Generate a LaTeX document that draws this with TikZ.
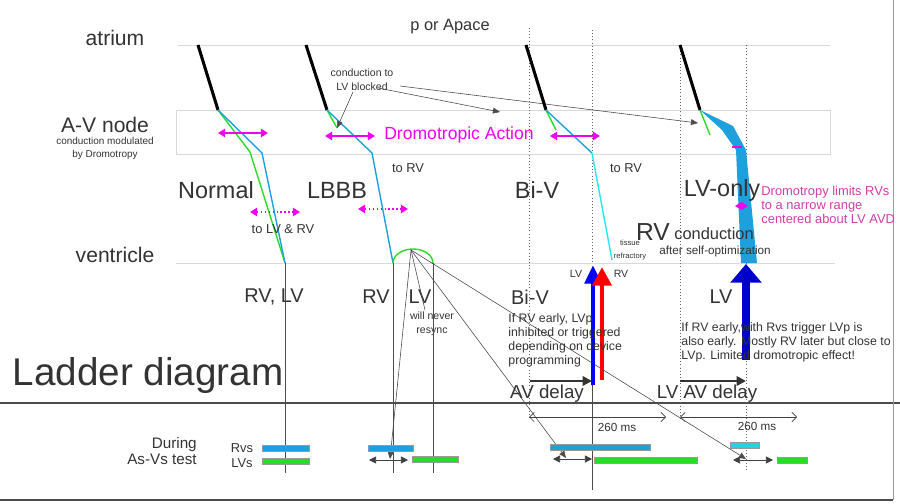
\documentclass[tikz,border=0pt]{standalone}
\usepackage{fontspec}
\setmainfont{Liberation Sans}
\usetikzlibrary{positioning,arrows.meta}
\definecolor{cblue}{RGB}{30,160,220}
\definecolor{cgreen}{RGB}{40,220,40}
\definecolor{cmag}{RGB}{240,0,240}
\definecolor{cpink}{RGB}{210,60,170}
\definecolor{ccyan}{RGB}{40,230,240}
\newcommand{\fs}[1]{\fontsize{#1}{#1}\selectfont}
\tikzset{
  grid/.style={draw=black!15, line width=0.6pt},
  lbl/.style={text=black!80, inner sep=1pt},
  atr/.style={line width=2.6pt, black},
  grn/.style={cgreen, line width=1.2pt},
  blu/.style={cblue, line width=1.2pt},
  dromo/.style={cmag, line width=1.4pt, {Triangle[width=7pt,length=6pt]}-{Triangle[width=7pt,length=6pt]}},
  dromodot/.style={dromo, dotted, line width=1.6pt},
  guide/.style={black!60, dotted, line width=0.7pt},
  thin/.style={black!70, line width=0.5pt},
  bar/.style={draw=black!40, line width=0.4pt, minimum height=5pt, inner sep=0pt},
  twoway/.style={black!75, line width=0.6pt, {Triangle[width=6pt,length=6pt]}-{Triangle[width=6pt,length=6pt]}},
  span/.style={black!75, line width=0.6pt, {Straight Barb[length=4pt]}-{Straight Barb[length=4pt]}},
  delay/.style={black!80, line width=2pt, -{Triangle[width=8pt,length=8pt]}}
}
\begin{document}
\begin{tikzpicture}[x=0.03cm, y=-0.03cm]
  \useasboundingbox (0,0) rectangle (900,503);
  % frame lines
  \draw[grid] (178,45) -- (830,45);
  \draw[grid] (176,110) rectangle (830,154);
  \draw[grid] (176,263) -- (835,263);
  \draw[black!70, line width=1pt] (0,403) -- (900,403);
  \draw[black!70, line width=1.2pt] (0,500) -- (893,500);
  \draw[black!40, line width=0.8pt] (893,0) -- (893,500);

  % row labels
  \node[lbl] (atrium) at (115,38) {\fs{18}atrium};
  \node[lbl] (avnode) at (105,125) {\fs{18}A-V node};
  \node[lbl, align=center] (modul) at (105,148) {\fs{8.5}conduction modulated\\[-1pt]\fs{8.5}by Dromotropy};
  \node[lbl] (ventricle) at (115,255) {\fs{18}ventricle};
  \node[lbl] (ladder) at (148,375) {\fs{33}Ladder diagram};
  \node[lbl, align=right] (during) at (162,451) {\fs{13}During\\[2pt]\fs{13}As-Vs test};
  \node[lbl] (rvs) at (242,448) {\fs{11}Rvs};
  \node[lbl] (lvs) at (242,463) {\fs{11}LVs};
  \node[lbl] (apace) at (450,27) {\fs{14}p or Apace};

  % guide lines
  \draw[guide] (529,28) -- (529,420);
  \draw[guide] (592,30) -- (592,263);
  \draw[guide] (680,45) -- (680,420);
  \draw[guide] (746,45) -- (746,470);

  % Normal
  \draw[atr] (198,45) -- (218,110);
  \draw[grn] (218,110) -- (250,152) -- (285,263);
  \draw[blu] (218,110) -- (262,153) -- (285,263);
  \draw[dromo] (218,133) -- (268,133);
  \draw[dromodot] (250,212) -- (300,212);
  \node[lbl] (tolvrv) at (283,229) {\fs{11}to LV \& RV};
  \node[lbl] (normal) at (216,190) {\fs{20}Normal};
  \node[lbl] (rvlv) at (274,297) {\fs{17}RV, LV};
  \draw[thin] (285,263) -- (285,473);

  % LBBB
  \draw[atr] (306,45) -- (327,110);
  \draw[grn] (327,110) -- (337,128);
  \draw[blu] (327,110) -- (372,153) -- (393,263);
  \draw[dromo] (325,136) -- (375,136);
  \node[text=cmag, inner sep=1pt] (dromact) at (459,135) {\fs{15}Dromotropic Action};
  \node[lbl] (torv1) at (408,168) {\fs{11}to RV};
  \node[lbl] (lbbb) at (337,190) {\fs{20}LBBB};
  \draw[dromodot] (358,209) -- (408,209);
  \draw[cgreen, line width=1.2pt] (393,263) arc[start angle=180, end angle=0, x radius=20, y radius=-14] coordinate (arcend);
  \coordinate (arctop) at (411,250);
  \node[lbl] (rv2) at (376,297) {\fs{17}RV};
  \node[lbl] (lv2) at (420,297) {\fs{17}LV};
  \node[lbl, align=center] (never) at (432,324) {\fs{9}will never\\\fs{9}resync};
  \draw[thin] (393,263) -- (393,473);
  \draw[thin] (433,263) -- (433,473);
  \node[lbl, align=center] (blocked) at (362,80) {\fs{9}conduction to\\\fs{9}LV blocked};
  \draw[thin, -{Triangle[width=5pt,length=6pt]}] (353,92) -- (337,128);
  \draw[thin, -{Triangle[width=5pt,length=6pt]}] (378,88) -- (500,112);
  \draw[thin, -{Triangle[width=5pt,length=6pt]}] (400,86) -- (698,123);
  % LBBB timing lines
  \draw[thin, -{Triangle[width=5pt,length=6pt]}] (arctop) -- (390,459);
  \draw[thin] (arctop) -- (425,310);
  \draw[thin, -{Triangle[width=5pt,length=6pt]}] (arctop) -- (566,458);
  \draw[thin, -{Triangle[width=5pt,length=6pt]}] (arctop) -- (746,459);

  % Bi-V
  \draw[atr] (526,45) -- (546,110);
  \draw[grn] (546,110) -- (556,130);
  \draw[blu] (546,110) -- (592,153);
  \draw[ccyan, line width=1.2pt] (592,153) -- (612,260);
  \draw[dromo] (550,136) -- (600,136);
  \node[lbl] (torv2) at (626,168) {\fs{11}to RV};
  \node[lbl] (biv) at (537,190) {\fs{20}Bi-V};
  \node[lbl, align=center] (refr) at (630,250) {\fs{6.5}tissue\\[-1pt]\fs{6.5}refractory};
  \node[lbl] (lvlab) at (576,274) {\fs{9}LV};
  \node[lbl] (rvlab) at (621,274) {\fs{9}RV};
  \draw[blue, line width=4pt, -{Triangle[width=14pt,length=16pt]}] (593,385) -- (593,265);
  \draw[red, line width=4pt, -{Triangle[width=16pt,length=16pt]}] (602,380) -- (602,267);
  \node[lbl] (biv2) at (530,297) {\fs{17}Bi-V};
  \node[lbl, align=left, anchor=north west] (rvearly) at (507,312) {\fs{10.5}If RV early, LVp\\\fs{10.5}inhibited or triggered\\\fs{10.5}depending on device\\\fs{10.5}programming};
  \draw[thin] (592,385) -- (592,490);
  \draw[delay] (530,381) -- (592,381);
  \node[lbl] (avdelay) at (547,394) {\fs{16}AV delay};

  % LV-only
  \draw[atr] (680,45) -- (700,110);
  \draw[grn] (700,110) -- (710,135);
  \fill[cblue] (700,110) -- (722,130) -- (736,150) -- (741,263) -- (757,263) -- (746,150) -- (733,126) -- cycle;
  \draw[cmag, line width=1.4pt] (732,147) -- (742,147);
  \draw[dromodot, line width=1.2pt] (735,206) -- (748,206);
  \node[lbl] (lvonly) at (722,190) {\fs{20}LV-only};
  \node[text=cpink, align=left, anchor=west, inner sep=1pt] (limits) at (760,205) {\fs{11}Dromotropy limits RVs\\\fs{11}to a narrow range\\\fs{11}centered about LV AVD};
  \node[lbl] (rvbig) at (653,232) {\fs{21}RV};
  \node[lbl] (conduction) at (714,234) {\fs{14}conduction};
  \node[lbl] (selfopt) at (715,251) {\fs{10}after self-optimization};
  \draw[blue!80!black, line width=6pt, -{Triangle[width=26pt,length=16pt]}] (746,360) -- (746,264);
  \node[lbl] (lv3) at (721,297) {\fs{17}LV};
  \node[lbl, align=left, anchor=north west] (rvearly2) at (680,321) {\fs{10.5}If RV early,with Rvs trigger LVp is\\\fs{10.5}also early. Mostly RV later but close to\\\fs{10.5}LVp. Limited dromotropic effect!};
  \draw[delay] (680,381) -- (746,381);
  \node[lbl] (lvavdelay) at (707,394) {\fs{16}LV AV delay};

  % 260 ms spans
  \draw[span] (529,417) -- (666,417);
  \node[lbl] (ms1) at (617,427) {\fs{10}260 ms};
  \draw[span] (680,417) -- (797,417);
  \node[lbl] (ms2) at (757,426) {\fs{10}260 ms};

  % test bars
  \node[bar, fill=cblue, minimum width=1.41cm] (rvsN) at (286,448) {};
  \node[bar, fill=cgreen, minimum width=1.41cm] (lvsN) at (286,461) {};
  \node[bar, fill=cblue, minimum width=1.35cm] (rvsL) at (391,448) {};
  \draw[twoway] (369,460) -- (408,460);
  \node[bar, fill=cgreen, minimum width=1.38cm] (lvsL) at (435,459) {};
  \node[bar, fill=cblue, minimum width=3cm] (rvsB) at (600,447) {};
  \draw[twoway] (553,459) -- (592,459);
  \node[bar, fill=cgreen, minimum width=3.09cm] (lvsB) at (646,460) {};
  \node[bar, fill=ccyan!70!cblue, minimum width=0.87cm] (rvsO) at (745,445) {};
  \draw[twoway] (733,460) -- (773,460);
  \node[bar, fill=cgreen, minimum width=0.9cm] (lvsO) at (792,460) {};
\end{tikzpicture}
\end{document}
